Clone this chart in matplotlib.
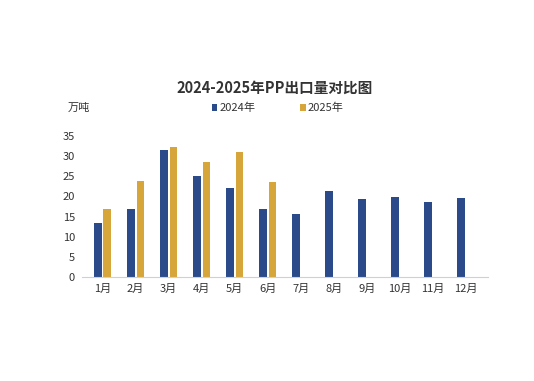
import matplotlib
matplotlib.use("Agg")
import matplotlib.pyplot as plt
import numpy as np

plt.rcParams['font.family'] = ['Noto Sans CJK SC', 'DejaVu Sans']

months = ["1月", "2月", "3月", "4月", "5月", "6月", "7月", "8月", "9月", "10月", "11月", "12月"]
v2024 = [13.5, 17.0, 31.5, 25.0, 22.0, 17.0, 15.7, 21.3, 19.4, 19.9, 18.7, 19.7]
v2025 = [17.0, 23.8, 32.2, 28.5, 31.0, 23.5]
yticks = [0, 5, 10, 15, 20, 25, 30, 35]

c2024 = "#2A4A8A"
c2025 = "#D6A63A"

fig = plt.figure(figsize=(5.34, 3.81), dpi=100)
ax = fig.add_axes([0.1536, 0.273, 0.7604, 0.37])

x = np.arange(len(months))
w = 0.23
off = 0.145
b1 = ax.bar(x - off, v2024, width=w, color=c2024, label="2024年")
b2 = ax.bar(np.arange(len(v2025)) + off, v2025, width=w, color=c2025, label="2025年")

ax.set_xlim(-0.62, 11.67)
ax.set_ylim(0, 35)
ax.set_yticks(yticks)
ax.set_xticks(x)
ax.set_xticklabels(months)
ax.tick_params(axis='both', length=0, labelsize=8, colors="#333333")
ax.tick_params(axis='x', pad=5)
ax.tick_params(axis='y', pad=5)
for s in ["top", "right", "left"]:
    ax.spines[s].set_visible(False)
ax.spines["bottom"].set_color("#D0D0D0")

fig.text(0.515, 0.77, "2024-2025年PP出口量对比图", ha="center", va="center",
         fontsize=10.5, fontweight="bold", color="#333333")
fig.text(0.127, 0.716, "万吨", ha="left", va="center", fontsize=8, color="#333333")

leg = fig.legend(handles=[b1, b2], labels=["2024年", "2025年"], loc="center",
                 bbox_to_anchor=(0.52, 0.716), ncol=2, frameon=False, fontsize=8,
                 handlelength=0.5, handleheight=0.5, columnspacing=4.0, handletextpad=0.2)
for t in leg.get_texts():
    t.set_color("#333333")

fig.savefig("out.png", dpi=100)
